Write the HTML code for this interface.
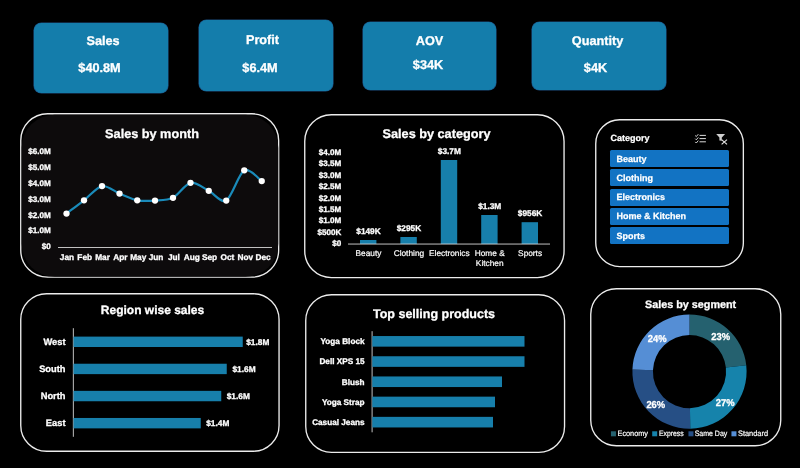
<!DOCTYPE html>
<html lang="en">
<head>
<meta charset="utf-8">
<title>Sales Dashboard</title>
<style>
html,body{margin:0;padding:0;background:#000;}
body{width:800px;height:468px;overflow:hidden;position:relative;font-family:"Liberation Sans",sans-serif;color:#fff;}
.kpi{position:absolute;background:#147dab;border-radius:7.5px;box-shadow:0 0 0 0.6px #1c4f80;text-rendering:geometricPrecision;text-align:center;font-weight:bold;font-size:12.7px;box-sizing:border-box;}
.kpi .k,.kpi .v{-webkit-text-stroke:0.3px #fff;position:absolute;left:0;right:0;line-height:14px;white-space:nowrap;}
.panel{position:absolute;box-sizing:border-box;background:#000;}
.panel>.bd{position:absolute;left:0;top:0;overflow:visible;pointer-events:none;}
.panel h2{position:absolute;margin:0;left:0;right:0;text-align:center;font-weight:bold;white-space:nowrap;line-height:16px;}
svg{position:absolute;left:0;top:0;overflow:visible;}
svg text{font-family:"Liberation Sans",sans-serif;text-rendering:geometricPrecision;}
.slicer .hd{-webkit-text-stroke:0.25px #fff;position:absolute;text-rendering:geometricPrecision;font-weight:bold;font-size:9px;line-height:12px;}
.slicer ul{list-style:none;margin:0;padding:0;}
.slicer li{-webkit-text-stroke:0.25px #fff;position:absolute;text-rendering:geometricPrecision;padding-top:0.7px;background:#1273c3;border-radius:1.5px;font-weight:bold;font-size:9px;box-sizing:border-box;padding-left:6.5px;white-space:nowrap;}
</style>
</head>
<body>

<div class="kpi" style="left:34px;top:22.5px;width:134px;height:70.7px"><div class="k" style="top:11.00px;left:9.00px;width:120px">Sales</div><div class="v" style="top:38.00px;left:5.50px;width:120px">$40.8M</div></div>

<div class="kpi" style="left:199px;top:19.5px;width:133.5px;height:71.5px"><div class="k" style="top:13.00px;left:3.50px;width:120px">Profit</div><div class="v" style="top:41.00px;left:1.00px;width:120px">$6.4M</div></div>

<div class="kpi" style="left:362.5px;top:22px;width:133.5px;height:68px"><div class="k" style="top:11.50px;left:7.00px;width:120px">AOV</div><div class="v" style="top:36.00px;left:5.50px;width:120px">$34K</div></div>

<div class="kpi" style="left:532px;top:22px;width:133.5px;height:68px"><div class="k" style="top:11.50px;left:5.50px;width:120px">Quantity</div><div class="v" style="top:39.00px;left:3.50px;width:120px">$4K</div></div>

<div class="panel " style="left:20.3px;top:113.3px;width:259.4px;height:164.9px;border-radius:27.5px;background:#000"><svg class="bd" width="259.4" height="164.9"><rect x="0.75" y="0.75" width="257.9" height="163.4" rx="26.8" fill="none" stroke="#ececec" stroke-width="1.35"/></svg>
<svg width="800" height="468" viewBox="0 0 800 468" style="left:-20.3px;top:-113.3px">
<rect x="21.7" y="114.7" width="256.6" height="162.1" rx="33" fill="#0d0b0c"/>
<text x="152.00" y="138.30" font-size="12.7" font-weight="bold" text-anchor="middle" fill="#fff" stroke="#fff" stroke-width="0.3">Sales by month</text>
<text x="50.80" y="154.40" font-size="8.1" font-weight="bold" text-anchor="end" fill="#fff" stroke="#fff" stroke-width="0.3">$6.0M</text>
<text x="50.80" y="170.10" font-size="8.1" font-weight="bold" text-anchor="end" fill="#fff" stroke="#fff" stroke-width="0.3">$5.0M</text>
<text x="50.80" y="185.90" font-size="8.1" font-weight="bold" text-anchor="end" fill="#fff" stroke="#fff" stroke-width="0.3">$4.0M</text>
<text x="50.80" y="201.70" font-size="8.1" font-weight="bold" text-anchor="end" fill="#fff" stroke="#fff" stroke-width="0.3">$3.0M</text>
<text x="50.80" y="217.50" font-size="8.1" font-weight="bold" text-anchor="end" fill="#fff" stroke="#fff" stroke-width="0.3">$2.0M</text>
<text x="50.80" y="233.30" font-size="8.1" font-weight="bold" text-anchor="end" fill="#fff" stroke="#fff" stroke-width="0.3">$1.0M</text>
<text x="50.80" y="249.10" font-size="8.1" font-weight="bold" text-anchor="end" fill="#fff" stroke="#fff" stroke-width="0.3">$0</text>
<line x1="58" y1="247.5" x2="272" y2="247.5" stroke="#d6d6d6" stroke-width="0.9"/>
<text x="66.92" y="260.47" font-size="8.3" font-weight="bold" text-anchor="middle" fill="#fff" stroke="#fff" stroke-width="0.3">Jan</text>
<text x="84.75" y="260.47" font-size="8.3" font-weight="bold" text-anchor="middle" fill="#fff" stroke="#fff" stroke-width="0.3">Feb</text>
<text x="102.58" y="260.47" font-size="8.3" font-weight="bold" text-anchor="middle" fill="#fff" stroke="#fff" stroke-width="0.3">Mar</text>
<text x="120.42" y="260.47" font-size="8.3" font-weight="bold" text-anchor="middle" fill="#fff" stroke="#fff" stroke-width="0.3">Apr</text>
<text x="138.25" y="260.47" font-size="8.3" font-weight="bold" text-anchor="middle" fill="#fff" stroke="#fff" stroke-width="0.3">May</text>
<text x="156.08" y="260.47" font-size="8.3" font-weight="bold" text-anchor="middle" fill="#fff" stroke="#fff" stroke-width="0.3">Jun</text>
<text x="173.92" y="260.47" font-size="8.3" font-weight="bold" text-anchor="middle" fill="#fff" stroke="#fff" stroke-width="0.3">Jul</text>
<text x="191.75" y="260.47" font-size="8.3" font-weight="bold" text-anchor="middle" fill="#fff" stroke="#fff" stroke-width="0.3">Aug</text>
<text x="209.58" y="260.47" font-size="8.3" font-weight="bold" text-anchor="middle" fill="#fff" stroke="#fff" stroke-width="0.3">Sep</text>
<text x="227.42" y="260.47" font-size="8.3" font-weight="bold" text-anchor="middle" fill="#fff" stroke="#fff" stroke-width="0.3">Oct</text>
<text x="245.25" y="260.47" font-size="8.3" font-weight="bold" text-anchor="middle" fill="#fff" stroke="#fff" stroke-width="0.3">Nov</text>
<text x="263.08" y="260.47" font-size="8.3" font-weight="bold" text-anchor="middle" fill="#fff" stroke="#fff" stroke-width="0.3">Dec</text>
<path d="M66.50,213.55 C69.12,211.56 78.67,204.43 84.00,200.30 C89.33,196.18 96.67,187.06 102.00,186.05 C107.33,185.04 114.21,191.41 119.50,193.55 C124.79,195.69 131.93,199.25 137.25,200.30 C142.57,201.35 149.64,200.93 155.00,200.55 C160.36,200.18 167.68,200.46 173.00,197.80 C178.32,195.14 185.14,183.85 190.50,182.80 C195.86,181.75 203.39,188.14 208.75,190.80 C214.11,193.46 220.93,203.62 226.25,200.55 C231.57,197.48 238.93,173.23 244.25,170.30 C249.57,167.38 259.12,179.44 261.75,181.05" fill="none" stroke="#1a8bba" stroke-width="2.2" stroke-linecap="round" stroke-linejoin="round"/>
<circle cx="66.5" cy="213.55" r="3.15" fill="#fff"/>
<circle cx="84" cy="200.3" r="3.15" fill="#fff"/>
<circle cx="102" cy="186.05" r="3.15" fill="#fff"/>
<circle cx="119.5" cy="193.55" r="3.15" fill="#fff"/>
<circle cx="137.25" cy="200.3" r="3.15" fill="#fff"/>
<circle cx="155" cy="200.55" r="3.15" fill="#fff"/>
<circle cx="173" cy="197.8" r="3.15" fill="#fff"/>
<circle cx="190.5" cy="182.8" r="3.15" fill="#fff"/>
<circle cx="208.75" cy="190.8" r="3.15" fill="#fff"/>
<circle cx="226.25" cy="200.55" r="3.15" fill="#fff"/>
<circle cx="244.25" cy="170.3" r="3.15" fill="#fff"/>
<circle cx="261.75" cy="181.05" r="3.15" fill="#fff"/>
</svg></div>

<div class="panel " style="left:304.2px;top:113.9px;width:260.8px;height:164.3px;border-radius:27.4px;background:#000"><svg class="bd" width="260.8" height="164.3"><rect x="0.75" y="0.75" width="259.3" height="162.8" rx="26.6" fill="none" stroke="#ececec" stroke-width="1.35"/></svg>
<svg width="800" height="468" viewBox="0 0 800 468" style="left:-304.2px;top:-113.9px">
<text x="436.50" y="138.30" font-size="12.7" font-weight="bold" text-anchor="middle" fill="#fff" stroke="#fff" stroke-width="0.3">Sales by category</text>
<text x="341.30" y="154.90" font-size="8.1" font-weight="bold" text-anchor="end" fill="#fff" stroke="#fff" stroke-width="0.3">$4.0M</text>
<text x="341.30" y="166.30" font-size="8.1" font-weight="bold" text-anchor="end" fill="#fff" stroke="#fff" stroke-width="0.3">$3.5M</text>
<text x="341.30" y="177.70" font-size="8.1" font-weight="bold" text-anchor="end" fill="#fff" stroke="#fff" stroke-width="0.3">$3.0M</text>
<text x="341.30" y="189.10" font-size="8.1" font-weight="bold" text-anchor="end" fill="#fff" stroke="#fff" stroke-width="0.3">$2.5M</text>
<text x="341.30" y="200.50" font-size="8.1" font-weight="bold" text-anchor="end" fill="#fff" stroke="#fff" stroke-width="0.3">$2.0M</text>
<text x="341.30" y="211.90" font-size="8.1" font-weight="bold" text-anchor="end" fill="#fff" stroke="#fff" stroke-width="0.3">$1.5M</text>
<text x="341.30" y="223.30" font-size="8.1" font-weight="bold" text-anchor="end" fill="#fff" stroke="#fff" stroke-width="0.3">$1.0M</text>
<text x="341.30" y="234.70" font-size="8.1" font-weight="bold" text-anchor="end" fill="#fff" stroke="#fff" stroke-width="0.3">$500K</text>
<text x="341.30" y="246.10" font-size="8.1" font-weight="bold" text-anchor="end" fill="#fff" stroke="#fff" stroke-width="0.3">$0</text>
<rect x="360.00" y="240" width="16.4" height="4.00" fill="#177fab"/>
<text x="368.50" y="234.42" font-size="8.3" font-weight="bold" text-anchor="middle" fill="#fff" stroke="#fff" stroke-width="0.3">$149K</text>
<text x="368.50" y="256.27" font-size="8.3" font-weight="normal" text-anchor="middle" fill="#fff" stroke="#fff" stroke-width="0.2">Beauty</text>
<rect x="400.40" y="237" width="16.4" height="7.00" fill="#177fab"/>
<text x="408.90" y="230.92" font-size="8.3" font-weight="bold" text-anchor="middle" fill="#fff" stroke="#fff" stroke-width="0.3">$295K</text>
<text x="408.90" y="256.27" font-size="8.3" font-weight="normal" text-anchor="middle" fill="#fff" stroke="#fff" stroke-width="0.2">Clothing</text>
<rect x="440.80" y="160" width="16.4" height="84.00" fill="#177fab"/>
<text x="449.30" y="153.92" font-size="8.3" font-weight="bold" text-anchor="middle" fill="#fff" stroke="#fff" stroke-width="0.3">$3.7M</text>
<text x="449.30" y="256.27" font-size="8.3" font-weight="normal" text-anchor="middle" fill="#fff" stroke="#fff" stroke-width="0.2">Electronics</text>
<rect x="481.20" y="215" width="16.4" height="29.00" fill="#177fab"/>
<text x="489.70" y="209.42" font-size="8.3" font-weight="bold" text-anchor="middle" fill="#fff" stroke="#fff" stroke-width="0.3">$1.3M</text>
<text x="489.70" y="256.27" font-size="8.3" font-weight="normal" text-anchor="middle" fill="#fff" stroke="#fff" stroke-width="0.2">Home &amp;</text>
<text x="489.70" y="265.87" font-size="8.3" font-weight="normal" text-anchor="middle" fill="#fff" stroke="#fff" stroke-width="0.2">Kitchen</text>
<rect x="521.60" y="222.2" width="16.4" height="21.80" fill="#177fab"/>
<text x="530.10" y="216.27" font-size="8.3" font-weight="bold" text-anchor="middle" fill="#fff" stroke="#fff" stroke-width="0.3">$956K</text>
<text x="530.10" y="256.27" font-size="8.3" font-weight="normal" text-anchor="middle" fill="#fff" stroke="#fff" stroke-width="0.2">Sports</text>
<line x1="348" y1="244.05" x2="550" y2="244.05" stroke="#d6d6d6" stroke-width="0.9"/>
</svg></div>

<div class="panel slicer" style="left:595.2px;top:119px;width:149.1px;height:148.3px;border-radius:24.7px;background:#000"><svg class="bd" width="149.1" height="148.3"><rect x="0.75" y="0.75" width="147.6" height="146.8" rx="23.9" fill="none" stroke="#ececec" stroke-width="1.35"/></svg>
<div class="hd" style="left:15.30px;top:13.35px">Category</div>
<svg width="800" height="468" viewBox="0 0 800 468" style="left:-595.2px;top:-119px">
<line x1="699.5" y1="135.4" x2="705.9" y2="135.4" stroke="#dcdcdc" stroke-width="1"/>
<path d="M695.2,135.50 l1.1,1.1 l2,-2.4" fill="none" stroke="#dcdcdc" stroke-width="0.95"/>
<line x1="699.5" y1="138.6" x2="705.9" y2="138.6" stroke="#dcdcdc" stroke-width="1"/>
<path d="M695.2,138.70 l1.1,1.1 l2,-2.4" fill="none" stroke="#dcdcdc" stroke-width="0.95"/>
<line x1="699.5" y1="141.8" x2="705.9" y2="141.8" stroke="#dcdcdc" stroke-width="1"/>
<path d="M695.2,141.90 l1.1,1.1 l2,-2.4" fill="none" stroke="#dcdcdc" stroke-width="0.95"/>
<path d="M716.2,133.9 h8.9 l-3.3,3.7 v3.1 l-2.4,-0.3 v-2.8 z" fill="#cfcfcf"/>
<path d="M721.6,139.6 l5.4,4.8 M727,139.6 l-5.4,4.8" fill="none" stroke="#e0e0e0" stroke-width="1.2"/>
</svg>
<ul>
<li style="left:14.80px;top:31.10px;width:119.5px;height:17.20px;line-height:17.20px">Beauty</li>
<li style="left:14.80px;top:50.40px;width:119.5px;height:17.10px;line-height:17.10px">Clothing</li>
<li style="left:14.80px;top:69.60px;width:119.5px;height:17.10px;line-height:17.10px">Electronics</li>
<li style="left:14.80px;top:88.70px;width:119.5px;height:17.20px;line-height:17.20px">Home &amp; Kitchen</li>
<li style="left:14.80px;top:107.90px;width:119.5px;height:17.00px;line-height:17.00px">Sports</li>
</ul></div>

<div class="panel " style="left:20.3px;top:293.2px;width:259.8px;height:159.0px;border-radius:26.5px;background:#000"><svg class="bd" width="259.8" height="159.0"><rect x="0.75" y="0.75" width="258.3" height="157.5" rx="25.8" fill="none" stroke="#ececec" stroke-width="1.35"/></svg>
<svg width="800" height="468" viewBox="0 0 800 468" style="left:-20.3px;top:-293.2px">
<text x="152.50" y="314.30" font-size="12" font-weight="bold" text-anchor="middle" fill="#fff" stroke="#fff" stroke-width="0.3">Region wise sales</text>
<line x1="73.35" y1="328.2" x2="73.35" y2="436.8" stroke="#d6d6d6" stroke-width="0.9"/>
<rect x="73.5" y="336.61" width="169.25" height="10.4" fill="#177fab"/>
<text x="65.50" y="344.54" font-size="9.3" font-weight="bold" text-anchor="end" fill="#fff" stroke="#fff" stroke-width="0.3">West</text>
<text x="246.25" y="344.78" font-size="8.3" font-weight="bold" text-anchor="start" fill="#fff" stroke="#fff" stroke-width="0.3">$1.8M</text>
<rect x="73.5" y="363.73" width="153.25" height="10.4" fill="#177fab"/>
<text x="65.50" y="371.66" font-size="9.3" font-weight="bold" text-anchor="end" fill="#fff" stroke="#fff" stroke-width="0.3">South</text>
<text x="232.50" y="371.90" font-size="8.3" font-weight="bold" text-anchor="start" fill="#fff" stroke="#fff" stroke-width="0.3">$1.6M</text>
<rect x="73.5" y="390.85" width="147.75" height="10.4" fill="#177fab"/>
<text x="65.50" y="398.78" font-size="9.3" font-weight="bold" text-anchor="end" fill="#fff" stroke="#fff" stroke-width="0.3">North</text>
<text x="226.75" y="399.02" font-size="8.3" font-weight="bold" text-anchor="start" fill="#fff" stroke="#fff" stroke-width="0.3">$1.6M</text>
<rect x="73.5" y="417.97" width="127.25" height="10.4" fill="#177fab"/>
<text x="65.50" y="425.90" font-size="9.3" font-weight="bold" text-anchor="end" fill="#fff" stroke="#fff" stroke-width="0.3">East</text>
<text x="206.25" y="426.14" font-size="8.3" font-weight="bold" text-anchor="start" fill="#fff" stroke="#fff" stroke-width="0.3">$1.4M</text>
</svg></div>

<div class="panel " style="left:305.2px;top:294px;width:260.3px;height:159.1px;border-radius:26.5px;background:#000"><svg class="bd" width="260.3" height="159.1"><rect x="0.75" y="0.75" width="258.8" height="157.6" rx="25.8" fill="none" stroke="#ececec" stroke-width="1.35"/></svg>
<svg width="800" height="468" viewBox="0 0 800 468" style="left:-305.2px;top:-294px">
<text x="434.00" y="318.23" font-size="12.5" font-weight="bold" text-anchor="middle" fill="#fff" stroke="#fff" stroke-width="0.3">Top selling products</text>
<line x1="372.1" y1="331.2" x2="372.1" y2="432.3" stroke="#d6d6d6" stroke-width="0.9"/>
<rect x="372.3" y="336.05" width="152.20" height="10.6" fill="#177fab"/>
<text x="364.50" y="344.29" font-size="8.2" font-weight="bold" text-anchor="end" fill="#fff" stroke="#fff" stroke-width="0.3">Yoga Block</text>
<rect x="372.3" y="356.25" width="152.20" height="10.6" fill="#177fab"/>
<text x="364.50" y="364.49" font-size="8.2" font-weight="bold" text-anchor="end" fill="#fff" stroke="#fff" stroke-width="0.3">Dell XPS 15</text>
<rect x="372.3" y="376.45" width="129.70" height="10.6" fill="#177fab"/>
<text x="364.50" y="384.69" font-size="8.2" font-weight="bold" text-anchor="end" fill="#fff" stroke="#fff" stroke-width="0.3">Blush</text>
<rect x="372.3" y="396.65" width="122.70" height="10.6" fill="#177fab"/>
<text x="364.50" y="404.89" font-size="8.2" font-weight="bold" text-anchor="end" fill="#fff" stroke="#fff" stroke-width="0.3">Yoga Strap</text>
<rect x="372.3" y="416.85" width="120.70" height="10.6" fill="#177fab"/>
<text x="364.50" y="425.09" font-size="8.2" font-weight="bold" text-anchor="end" fill="#fff" stroke="#fff" stroke-width="0.3">Casual Jeans</text>
</svg></div>

<div class="panel " style="left:590px;top:287.9px;width:191.5px;height:158.5px;border-radius:26.4px;background:#000"><svg class="bd" width="191.5" height="158.5"><rect x="0.75" y="0.75" width="190.0" height="157.0" rx="25.6" fill="none" stroke="#ececec" stroke-width="1.35"/></svg>
<svg width="800" height="468" viewBox="0 0 800 468" style="left:-590px;top:-287.9px">
<text x="690.60" y="308.37" font-size="10.8" font-weight="bold" text-anchor="middle" fill="#fff" stroke="#fff" stroke-width="0.3">Sales by segment</text>
<path d="M689.50,314.50 A57.1,57.1 0 0 1 746.24,365.16 L725.87,367.47 A36.6,36.6 0 0 0 689.50,335.00 Z" fill="#25616f"/>
<path d="M746.24,365.16 A57.1,57.1 0 0 1 690.22,428.70 L689.96,408.20 A36.6,36.6 0 0 0 725.87,367.47 Z" fill="#1683ab"/>
<path d="M690.22,428.70 A57.1,57.1 0 0 1 632.44,369.45 L652.93,370.22 A36.6,36.6 0 0 0 689.96,408.20 Z" fill="#264f85"/>
<path d="M632.44,369.45 A57.1,57.1 0 0 1 689.50,314.50 L689.50,335.00 A36.6,36.6 0 0 0 652.93,370.22 Z" fill="#558ed5"/>
<text x="657.20" y="341.98" font-size="10" font-weight="bold" text-anchor="middle" fill="#fff" stroke="#fff" stroke-width="0.3" textLength="18.8" lengthAdjust="spacingAndGlyphs">24%</text>
<text x="720.70" y="340.28" font-size="10" font-weight="bold" text-anchor="middle" fill="#fff" stroke="#fff" stroke-width="0.3" textLength="18.8" lengthAdjust="spacingAndGlyphs">23%</text>
<text x="655.80" y="408.08" font-size="10" font-weight="bold" text-anchor="middle" fill="#fff" stroke="#fff" stroke-width="0.3" textLength="18.8" lengthAdjust="spacingAndGlyphs">26%</text>
<text x="725.20" y="405.78" font-size="10" font-weight="bold" text-anchor="middle" fill="#fff" stroke="#fff" stroke-width="0.3" textLength="18.8" lengthAdjust="spacingAndGlyphs">27%</text>
<rect x="610.95" y="431.3" width="5" height="5" fill="#25616f"/>
<text x="617.50" y="436.19" font-size="7.8" font-weight="normal" text-anchor="start" fill="#fff" stroke="#fff" stroke-width="0.2" textLength="30.5" lengthAdjust="spacingAndGlyphs">Economy</text>
<rect x="652.2" y="431.3" width="5" height="5" fill="#1683ab"/>
<text x="658.90" y="436.19" font-size="7.8" font-weight="normal" text-anchor="start" fill="#fff" stroke="#fff" stroke-width="0.2" textLength="24.8" lengthAdjust="spacingAndGlyphs">Express</text>
<rect x="688.45" y="431.3" width="5" height="5" fill="#264f85"/>
<text x="694.70" y="436.19" font-size="7.8" font-weight="normal" text-anchor="start" fill="#fff" stroke="#fff" stroke-width="0.2" textLength="32.6" lengthAdjust="spacingAndGlyphs">Same Day</text>
<rect x="731.45" y="431.3" width="5" height="5" fill="#558ed5"/>
<text x="738.00" y="436.19" font-size="7.8" font-weight="normal" text-anchor="start" fill="#fff" stroke="#fff" stroke-width="0.2" textLength="30" lengthAdjust="spacingAndGlyphs">Standard</text>
</svg></div>

</body>
</html>
